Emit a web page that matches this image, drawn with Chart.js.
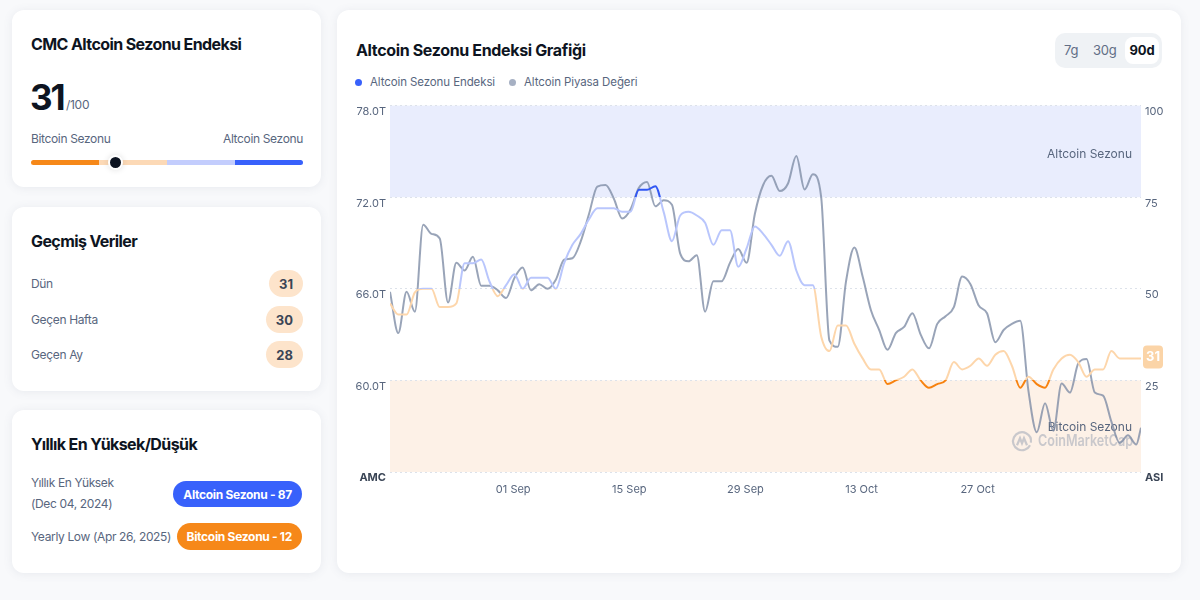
<!DOCTYPE html>
<html lang="tr">
<head>
<meta charset="utf-8">
<title>Altcoin Sezonu Endeksi</title>
<script src="https://cdn.jsdelivr.net/npm/chart.js@4.4.1/dist/chart.umd.min.js"></script>
<style>
  * { box-sizing: border-box; margin: 0; padding: 0; }
  html, body { width: 1200px; height: 600px; overflow: hidden; }
  body { background: #f8f9fb; font-family: Inter, "Noto Sans", sans-serif; color: #0d1421; position: relative; }
  .card { position: absolute; background: #fff; border-radius: 12px; box-shadow: 0 1px 10px rgba(88, 102, 126, 0.10); }
  .abs { position: absolute; white-space: nowrap; }
  .h { font-size: 16px; line-height: 20px; font-weight: 700; letter-spacing: -0.6px; }
  .lbl { font-size: 12px; line-height: 16px; color: #58667e; letter-spacing: -0.35px; }
  .pill { position: absolute; display: flex; align-items: center; justify-content: center; border-radius: 14px; font-size: 13px; font-weight: 700; }
  .peach { background: #fde4cb; color: #3a4556; padding: 0 10px; height: 27px; }
  .strong { font-size: 12px; letter-spacing: -0.3px; padding: 0 10px; color: #fff; }
  .bar { position: absolute; left: 19px; top: 150px; width: 272px; height: 5px; border-radius: 3px; overflow: hidden; display: flex; }
  .bar div { flex: 1; }
  .knob { position: absolute; left: 96px; top: 145px; width: 15px; height: 15px; border-radius: 50%; background: #0d1421; border: 2.5px solid #fff; box-shadow: 0 0 6px rgba(0,0,0,0.12); }
  .dot { position: absolute; width: 7px; height: 7px; border-radius: 50%; top: 68.5px; }
  .toggle { position: absolute; left: 718px; top: 23px; width: 107px; height: 35px; border-radius: 10px; background: #eff2f5; }
  .toggle span { position: absolute; top: 9px; font-size: 13px; line-height: 17px; color: #616e85; letter-spacing: -0.2px; }
  .toggle .on { top: 4px; left: 70px; width: 34px; height: 27px; line-height: 27px; text-align: center; background: #fff; border-radius: 8px; color: #0d1421; font-weight: 700; }
  #chartBox { position: absolute; left: 8px; top: 85px; width: 830px; height: 415px; }
</style>
</head>
<body>

<div class="card" style="left:12px; top:10px; width:309px; height:177px;">
  <div class="abs h" style="left:19px; top:24px;">CMC Altcoin Sezonu Endeksi</div>
  <div class="abs" style="left:18px; top:67px; font-size:35px; line-height:40px; font-weight:700; letter-spacing:-2px;">31</div>
  <div class="abs" style="left:54px; top:87px; font-size:12px; line-height:16px; color:#58667e; letter-spacing:-0.3px;">/100</div>
  <div class="abs lbl" style="left:19px; top:121px;">Bitcoin Sezonu</div>
  <div class="abs lbl" style="right:18px; top:121px;">Altcoin Sezonu</div>
  <div class="bar">
    <div style="background:#f68819"></div>
    <div style="background:#fcd9b6"></div>
    <div style="background:#c3cdfd"></div>
    <div style="background:#3861fb"></div>
  </div>
  <div class="knob"></div>
</div>

<div class="card" style="left:12px; top:207px; width:309px; height:184px;">
  <div class="abs h" style="left:19px; top:24px;">Geçmiş Veriler</div>
  <div class="abs lbl" style="left:19px; top:69px;">Dün</div>
  <div class="pill peach" style="right:18px; top:63px;">31</div>
  <div class="abs lbl" style="left:19px; top:105px;">Geçen Hafta</div>
  <div class="pill peach" style="right:18px; top:99px;">30</div>
  <div class="abs lbl" style="left:19px; top:140px;">Geçen Ay</div>
  <div class="pill peach" style="right:18px; top:134px;">28</div>
</div>

<div class="card" style="left:12px; top:410px; width:309px; height:163px;">
  <div class="abs h" style="left:19px; top:24px;">Yıllık En Yüksek/Düşük</div>
  <div class="abs lbl" style="left:19px; top:65px;">Yıllık En Yüksek</div>
  <div class="abs lbl" style="left:19px; top:86px;">(Dec 04, 2024)</div>
  <div class="pill strong" style="right:19px; top:71px; height:26px; background:#3861fb;">Altcoin Sezonu - 87</div>
  <div class="abs lbl" style="left:19px; top:119px;">Yearly Low (Apr 26, 2025)</div>
  <div class="pill strong" style="right:19px; top:113px; height:27px; background:#f68819;">Bitcoin Sezonu - 12</div>
</div>

<div class="card" style="left:337px; top:10px; width:844px; height:563px;">
  <div class="abs" style="left:19px; top:29px; font-size:16px; line-height:22px; font-weight:700; letter-spacing:-0.35px;">Altcoin Sezonu Endeksi Grafiği</div>
  <div class="dot" style="left:18px; background:#3861fb;"></div>
  <div class="abs lbl" style="left:33px; top:64px; font-size:11.5px; letter-spacing:-0.1px;">Altcoin Sezonu Endeksi</div>
  <div class="dot" style="left:171.5px; background:#a6b0c3;"></div>
  <div class="abs lbl" style="left:187px; top:64px; font-size:11.5px; letter-spacing:-0.1px;">Altcoin Piyasa Değeri</div>
  <div class="toggle">
    <span style="left:9px;">7g</span>
    <span style="left:38px;">30g</span>
    <span class="on">90d</span>
  </div>
  <div id="chartBox"><canvas id="seasonChart"></canvas></div>
</div>

<script>
// 90 days of daily readings (Aug 17 -> Nov 14) plus the live "now" reading at the end
const altcoinIndex = [
  46, 43, 43, 49, 50, 50, 45, 45, 46, 57,
  57, 58, 52, 48, 51, 54, 50, 53, 53, 53,
  50, 57, 62, 65, 69, 72, 72, 72, 71, 71,
  77, 77, 78, 71, 63, 70, 71, 70, 68, 62,
  66, 66, 56, 61, 67, 65, 62, 59, 63, 55,
  51, 51, 37, 33, 40, 40, 35, 31, 28, 28,
  24, 25, 26, 28, 25, 23, 24, 25, 30, 28,
  29, 31, 29, 32, 33, 29, 23, 26, 24, 23,
  28, 31, 32, 30, 26, 28, 28, 33, 31, 31,
  31, 31
];

// altcoin market cap, in trillions
const altcoinMarketCap = [
  65.8, 63.1, 65.8, 64.5, 70.2, 69.6, 69.3, 65.1, 67.7, 67.2,
  68.1, 66.2, 66.2, 65.9, 65.4, 66.7, 67.4, 65.9, 66.3, 66.0,
  66.6, 67.9, 68.0, 69.1, 70.9, 72.7, 72.8, 71.9, 70.6, 71.2,
  72.6, 73.0, 71.4, 71.8, 71.5, 68.3, 67.8, 68.2, 64.5, 66.5,
  66.5, 67.7, 68.6, 67.7, 70.9, 72.8, 73.4, 72.4, 72.9, 74.7,
  72.5, 73.5, 72.0, 62.6, 62.2, 66.5, 68.7, 66.8, 64.6, 63.3,
  62.0, 63.1, 63.5, 64.4, 63.0, 62.1, 63.7, 64.2, 64.8, 66.8,
  66.3, 64.9, 64.4, 62.5, 63.3, 63.7, 63.9, 59.3, 56.6, 58.5,
  56.7, 59.8, 59.2, 61.1, 61.4, 59.2, 59.0, 57.3, 55.9, 56.4,
  55.8, 56.9
];

const nowOffsetDays = 90.57;            // the live point sits part-way into the last day
const firstPointTime = Date.UTC(2025, 7, 17, 3, 20);
const tickDates = ['2025-09-01', '2025-09-15', '2025-09-29', '2025-10-13', '2025-10-27'];
const tickLabels = ['01 Sep', '15 Sep', '29 Sep', '13 Oct', '27 Oct'];
const capTicks = [54, 60, 66, 72, 78];
const indexTicks = [0, 25, 50, 75, 100];

const deepBlue = '#3157f4';
const softBlue = '#b9c6fc';
const softOrange = '#fdd6ab';
const deepOrange = '#f7820f';
const axisGray = '#58667e';

const dayMs = 86400000;
const tickDays = tickDates.map(d => (Date.parse(d + 'T00:00:00Z') - firstPointTime) / dayMs);
const lastIdx = altcoinIndex.length - 1;
const pointDay = i => (i === lastIdx ? nowOffsetDays : i);

function indexLineColor(context) {
  const chart = context.chart;
  if (!chart.chartArea) return softBlue;
  const y = chart.scales.yIdx;
  const g = chart.ctx.createLinearGradient(0, y.getPixelForValue(100), 0, y.getPixelForValue(0));
  g.addColorStop(0, deepBlue);
  g.addColorStop(0.25, deepBlue);
  g.addColorStop(0.25, softBlue);
  g.addColorStop(0.5, softBlue);
  g.addColorStop(0.5, softOrange);
  g.addColorStop(0.75, softOrange);
  g.addColorStop(0.75, deepOrange);
  g.addColorStop(1, deepOrange);
  return g;
}

// season bands, their captions, the watermark and the badge with the latest value
const seasonPlugin = {
  id: 'seasonBands',
  beforeDraw(chart) {
    const { ctx, chartArea: a, scales } = chart;
    const y = scales.yIdx;
    ctx.save();
    ctx.fillStyle = '#e9edfd';
    ctx.fillRect(a.left, y.getPixelForValue(100), a.width, y.getPixelForValue(75) - y.getPixelForValue(100));
    ctx.fillStyle = '#fdf1e7';
    ctx.fillRect(a.left, y.getPixelForValue(25), a.width, y.getPixelForValue(0) - y.getPixelForValue(25));
    ctx.restore();
  },
  beforeDatasetsDraw(chart) {
    const { ctx, chartArea: a, scales } = chart;
    const y = scales.yIdx;
    ctx.save();
    // watermark
    const wy = y.getPixelForValue(8.4);
    ctx.strokeStyle = 'rgba(150, 160, 178, 0.5)';
    ctx.lineWidth = 2.2;
    ctx.beginPath();
    ctx.arc(a.right - 119, wy, 9, 0.15 * Math.PI, 2.05 * Math.PI);
    ctx.stroke();
    ctx.beginPath();
    ctx.moveTo(a.right - 124, wy + 4);
    ctx.lineTo(a.right - 121, wy - 3);
    ctx.lineTo(a.right - 119, wy + 2);
    ctx.lineTo(a.right - 117, wy - 3);
    ctx.lineTo(a.right - 114, wy + 4);
    ctx.stroke();
    ctx.fillStyle = 'rgba(150, 160, 178, 0.5)';
    ctx.font = '600 16px Inter';
    ctx.textBaseline = 'middle';
    ctx.textAlign = 'left';
    const wm = 'CoinMarketCap';
    const sx = 95 / ctx.measureText(wm).width;
    ctx.translate(a.right - 103, wy);
    ctx.scale(sx, 1);
    ctx.fillText(wm, 0, 0);
    ctx.restore();

    ctx.save();
    ctx.fillStyle = axisGray;
    ctx.font = '12px Inter';
    ctx.textAlign = 'right';
    ctx.textBaseline = 'middle';
    ctx.fillText('Altcoin Sezonu', a.right - 9, y.getPixelForValue(87.5) + 3);
    ctx.fillText('Bitcoin Sezonu', a.right - 9, y.getPixelForValue(12.5) + 1);
    ctx.restore();
  },
  afterDatasetsDraw(chart) {
    const { ctx, chartArea: a, scales } = chart;
    const last = altcoinIndex[lastIdx];
    const cy = scales.yIdx.getPixelForValue(last) - 2;
    ctx.save();
    ctx.fillStyle = '#fbd4a7';
    ctx.beginPath();
    ctx.roundRect(a.right + 2, cy - 11, 20, 23, 4);
    ctx.fill();
    ctx.fillStyle = '#fff';
    ctx.font = '700 13px Inter';
    ctx.textAlign = 'center';
    ctx.textBaseline = 'middle';
    ctx.fillText(String(last), a.right + 12, cy + 1);
    ctx.restore();
  }
};

const tickFont = ctx => (ctx.index === 0
  ? { family: 'Inter', size: 11, weight: '700' }
  : { family: 'Inter', size: 11 });
const tickColor = ctx => (ctx.index === 0 ? '#3a4556' : axisGray);

new Chart(document.getElementById('seasonChart'), {
  type: 'line',
  data: {
    datasets: [
      {
        label: 'Altcoin Sezonu Endeksi',
        data: altcoinIndex.map((v, i) => ({ x: pointDay(i), y: v })),
        yAxisID: 'yIdx',
        borderColor: indexLineColor,
        borderWidth: 2,
        pointRadius: 0,
        cubicInterpolationMode: 'monotone',
        order: 0
      },
      {
        label: 'Altcoin Piyasa Değeri',
        data: altcoinMarketCap.map((v, i) => ({ x: pointDay(i), y: v })),
        yAxisID: 'yCap',
        borderColor: 'rgba(128, 141, 166, 0.8)',
        borderWidth: 2,
        pointRadius: 0,
        cubicInterpolationMode: 'monotone',
        order: 1
      }
    ]
  },
  options: {
    responsive: true,
    maintainAspectRatio: false,
    animation: false,
    layout: { padding: { top: 9 } },
    plugins: {
      legend: { display: false },
      tooltip: { enabled: false }
    },
    scales: {
      x: {
        type: 'linear',
        min: 0,
        max: nowOffsetDays,
        grid: { display: false },
        border: { display: false },
        afterBuildTicks: scale => { scale.ticks = tickDays.map(v => ({ value: v })); },
        afterFit: scale => { scale.height = 38; },
        ticks: {
          autoSkip: false,
          maxRotation: 0,
          padding: 3,
          color: axisGray,
          font: { family: 'Inter', size: 11 },
          callback: (value, i) => tickLabels[i]
        }
      },
      yCap: {
        position: 'left',
        min: 54,
        max: 78,
        afterBuildTicks: scale => { scale.ticks = capTicks.map(v => ({ value: v })); },
        afterFit: scale => { scale.width = 45; },
        grid: { color: '#dde2ea', drawTicks: false, lineWidth: 1 },
        border: { display: false, dash: [2, 3] },
        ticks: {
          padding: 4,
          labelOffset: 6,
          color: tickColor,
          font: tickFont,
          callback: v => (v === 54 ? 'AMC' : v.toFixed(1) + 'T')
        }
      },
      yIdx: {
        position: 'right',
        min: 0,
        max: 100,
        afterBuildTicks: scale => { scale.ticks = indexTicks.map(v => ({ value: v })); },
        afterFit: scale => { scale.width = 34; },
        grid: { display: false, drawTicks: false },
        border: { display: false },
        ticks: {
          padding: 4,
          labelOffset: 6,
          color: tickColor,
          font: tickFont,
          callback: v => (v === 0 ? 'ASI' : String(v))
        }
      }
    }
  },
  plugins: [seasonPlugin]
});
</script>
</body>
</html>
